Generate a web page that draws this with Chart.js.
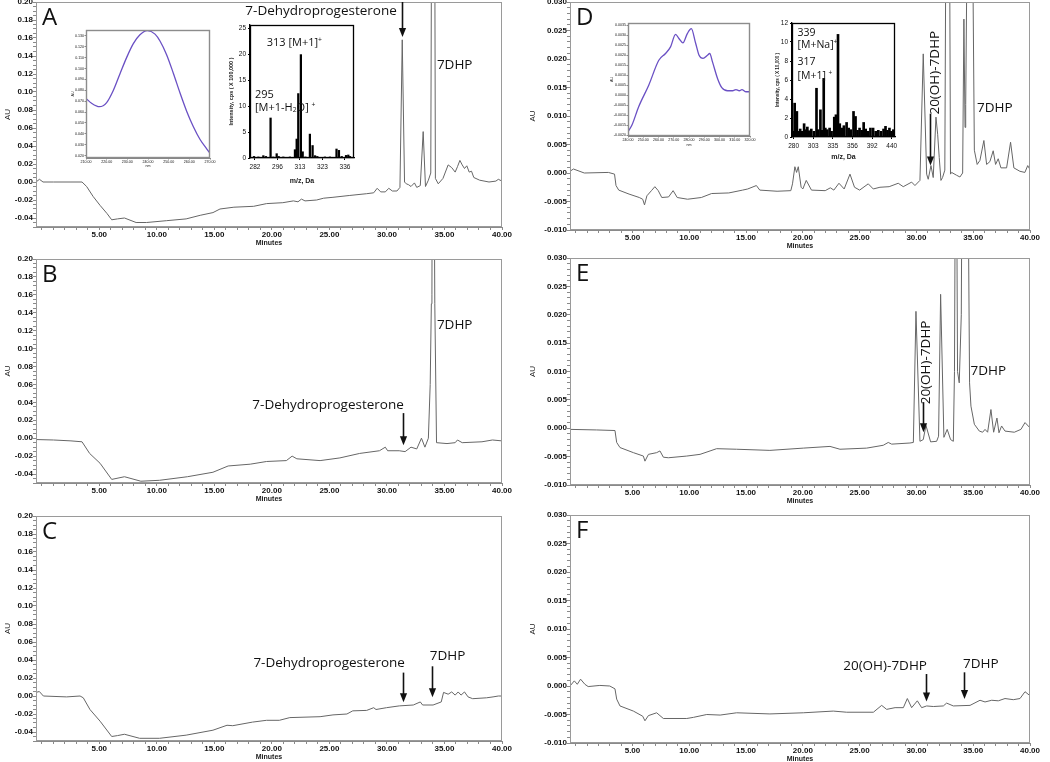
<!DOCTYPE html>
<html>
<head>
<meta charset="utf-8">
<title>HPLC of 7DHP metabolism</title>
<script src="https://cdn.jsdelivr.net/npm/chart.js@4.4.1/dist/chart.umd.min.js"></script>
<style>
  html, body { margin: 0; padding: 0; background: #fff; }
  body { position: relative; width: 1050px; height: 762px; overflow: hidden; }
  canvas { position: absolute; }
</style>
</head>
<body>
<canvas id="chartA"></canvas>
<canvas id="chartB"></canvas>
<canvas id="chartC"></canvas>
<canvas id="chartD"></canvas>
<canvas id="chartE"></canvas>
<canvas id="chartF"></canvas>
<canvas id="uvA"></canvas>
<canvas id="msA"></canvas>
<canvas id="uvD"></canvas>
<canvas id="msD"></canvas>
<script>
// ---- chromatograms: retention time (min) / absorbance (AU) ----
const timeA = [-0.5, -0.2, 0.11, 1.02, 2.54, 3.5, 3.9, 4.46, 5.07, 5.67, 6.08, 6.58, 7.19, 8.2, 9.11, 10.83, 12.55, 13.77, 14.88, 15.49, 16.7, 18.42, 19.54, 20.95, 21.87, 22.27, 22.57, 22.88, 23.89, 24.5, 25.31, 26.72, 28.24, 28.85, 29.15, 29.46, 29.86, 30.16, 30.47, 30.87, 31.13, 31.33, 31.53, 31.68, 31.88, 32.09, 32.39, 32.59, 32.9, 33.15, 33.35, 33.6, 33.81, 34.03, 34.21, 34.46, 34.87, 35.32, 35.63, 35.93, 36.13, 36.34, 36.54, 36.74, 36.94, 37.15, 37.35, 37.55, 38.06, 38.87, 39.47, 39.68, 40];
const auA = [0.000, 0.003, 0.000, 0.000, 0.000, 0.000, -0.005, -0.016, -0.026, -0.035, -0.042, -0.041, -0.040, -0.045, -0.045, -0.043, -0.041, -0.037, -0.034, -0.030, -0.028, -0.027, -0.024, -0.023, -0.021, -0.022, -0.019, -0.021, -0.020, -0.018, -0.017, -0.015, -0.013, -0.012, -0.007, -0.011, -0.011, -0.007, -0.010, -0.010, -0.006, 0.158, 0.000, -0.002, -0.003, -0.005, -0.001, -0.006, -0.004, 0.056, -0.005, 0.002, 0.010, 0.900, 0.004, -0.002, 0.004, 0.019, 0.016, 0.011, 0.017, 0.024, 0.019, 0.015, 0.018, 0.011, 0.012, 0.005, 0.002, 0.000, 0.001, 0.003, 0.001];

const timeB = [-0.5, 1.02, 2.54, 3.5, 4.16, 5.07, 6.08, 7.19, 8.61, 10.23, 12.66, 14.88, 16.2, 18.12, 19.54, 21.26, 21.76, 22.17, 24.19, 25.91, 27.63, 29.35, 29.86, 30.06, 31.07, 31.58, 32.09, 32.59, 33.0, 33.3, 33.6, 33.76, 33.86, 33.91, 33.99, 34.16, 34.31, 35.22, 35.93, 36.13, 36.54, 38.26, 39.17, 40];
const auB = [-0.0015, -0.002, -0.003, -0.004, -0.017, -0.028, -0.046, -0.043, -0.048, -0.047, -0.043, -0.038, -0.031, -0.029, -0.026, -0.025, -0.020, -0.023, -0.025, -0.022, -0.017, -0.014, -0.010, -0.014, -0.014, -0.015, -0.010, -0.012, 0.000, -0.010, 0.000, 0.060, 0.150, 0.160, 0.600, 0.150, -0.005, -0.006, -0.005, -0.002, -0.005, -0.004, -0.002, -0.003];

const timeC = [-0.5, -0.21, 0.14, 2.16, 3.33, 3.61, 4.19, 5.07, 6.08, 6.58, 7.19, 8.51, 10.23, 12.55, 14.88, 16.1, 16.6, 18.32, 19.54, 20.65, 21.56, 24.19, 25.31, 26.52, 27.03, 28.24, 28.85, 29.05, 29.96, 31.07, 32.29, 32.9, 33.1, 34.01, 34.72, 34.92, 35.32, 35.63, 35.93, 36.19, 36.44, 36.74, 37.05, 37.45, 38.66, 39.22, 39.68, 40];
const auC = [0.004, 0.005, 0.000, -0.001, 0.000, -0.002, -0.015, -0.028, -0.045, -0.044, -0.0425, -0.047, -0.047, -0.0435, -0.038, -0.0325, -0.033, -0.029, -0.027, -0.027, -0.024, -0.023, -0.021, -0.020, -0.0165, -0.016, -0.013, -0.015, -0.013, -0.011, -0.010, -0.0066, -0.010, -0.010, -0.0066, 0.004, 0.002, 0.0045, 0.001, 0.0045, 0.001, 0.0045, -0.001, -0.003, -0.002, -0.001, 0.000, 0.000];

const timeD = [-0.5, -0.2, 0.76, 2.88, 3.42, 3.55, 3.79, 4.7, 5.6, 5.9, 6.06, 6.27, 6.67, 6.97, 7.27, 7.58, 8.18, 8.58, 8.94, 9.85, 11.06, 11.97, 13.48, 14.7, 15.15, 15.91, 16.21, 17.73, 18.94, 19.09, 19.3, 19.45, 19.6, 19.85, 20.0, 20.3, 20.76, 21.97, 22.42, 22.73, 23.18, 23.64, 24.15, 24.55, 25.0, 25.76, 26.2, 26.79, 27.6, 28.4, 28.84, 29.58, 29.87, 30.31, 30.6, 30.9, 31.04, 31.28, 31.48, 31.72, 31.87, 32.01, 32.16, 32.3, 32.5, 32.77, 33.0, 33.1, 33.54, 33.83, 34.07, 34.18, 34.28, 34.34, 34.71, 35.1, 35.35, 35.59, 35.94, 36.18, 36.47, 36.76, 36.97, 37.2, 37.44, 37.94, 38.29, 38.58, 39.11, 39.55, 39.8, 40];
const auD = [0.0003, 0.0007, 0.0, 0.0001, -0.0002, -0.0022, -0.003, -0.0037, -0.0043, -0.0046, -0.0056, -0.004, -0.0031, -0.0024, -0.0031, -0.0043, -0.0042, -0.0031, -0.0043, -0.0046, -0.0043, -0.0036, -0.0035, -0.003, -0.0028, -0.0022, -0.003, -0.0032, -0.0031, -0.0019, 0.0011, 0.0001, 0.0011, -0.0025, -0.0028, -0.0013, -0.003, -0.0031, -0.0026, -0.003, -0.0018, -0.0028, -0.0002, -0.0025, -0.003, -0.0019, -0.0028, -0.0025, -0.0024, -0.0018, -0.0024, -0.0016, -0.0022, -0.0013, 0.0209, -0.0002, -0.0011, 0.0013, -0.0008, 0.0098, 0.0068, 0.0027, -0.0013, -0.0008, 0.0005, 0.12, -0.0002, 0.0001, -0.0004, -0.0007, 0.0, 0.027, 0.008, 0.012, 0.1, 0.004, 0.0015, 0.0022, 0.0057, 0.0015, 0.002, 0.0039, 0.0015, 0.0025, 0.0009, 0.0009, 0.0054, 0.0009, 0.0003, 0.0001, 0.0013, 0.0006];

const timeE = [-0.5, 1.85, 3.46, 3.61, 3.9, 5.08, 5.96, 6.1, 6.4, 7.13, 7.42, 7.72, 8.16, 9.78, 10.95, 11.83, 12.41, 14.17, 17.1, 20.04, 22.39, 23.27, 25.62, 27.08, 27.52, 27.82, 29.43, 29.73, 29.96, 30.31, 30.6, 30.84, 31.25, 31.78, 31.95, 32.13, 32.42, 32.71, 33.01, 33.25, 33.35, 33.48, 33.62, 33.77, 33.95, 34.27, 34.6, 34.68, 34.8, 35.1, 35.54, 35.83, 36.04, 36.27, 36.56, 36.8, 37.09, 37.27, 37.5, 37.8, 38.62, 39.2, 39.56, 39.94, 40];
const auE = [-0.0002, -0.0003, -0.0004, -0.0025, -0.0034, -0.0043, -0.0049, -0.0058, -0.0046, -0.0043, -0.004, -0.0051, -0.0052, -0.0049, -0.0046, -0.004, -0.0036, -0.0037, -0.0039, -0.0035, -0.0032, -0.0037, -0.0035, -0.003, -0.0025, -0.0028, -0.0026, -0.0025, 0.0206, -0.0023, -0.002, 0.0005, -0.0024, -0.0023, -0.0014, 0.0236, -0.0016, -0.0002, -0.002, -0.0023, 0.01, 0.07, 0.01, 0.008, 0.02, 0.15, 0.03, 0.008, 0.0039, 0.0007, -0.0005, -0.0007, -0.0002, -0.0007, 0.0033, -0.0007, 0.0018, -0.0008, 0.0004, -0.0005, -0.0007, -0.0002, 0.001, 0.0002, 0.0];

const timeF = [-0.5, -0.12, 0.14, 0.43, 0.81, 1.1, 2.13, 3.0, 3.46, 3.61, 3.9, 5.08, 5.9, 6.1, 6.4, 7.13, 7.42, 7.72, 9.78, 10.37, 11.54, 12.72, 14.17, 17.1, 20.04, 22.68, 23.86, 26.21, 26.94, 27.38, 28.12, 28.85, 29.2, 29.58, 30.08, 30.46, 30.9, 31.49, 32.37, 32.66, 33.25, 34.72, 35.6, 36.04, 36.63, 37.21, 37.8, 38.53, 39.12, 39.56, 40];
const auF = [0.0, 0.0009, 0.0003, 0.0012, 0.0003, -0.0001, 0.0001, 0.0, -0.0005, -0.0023, -0.0035, -0.0044, -0.0053, -0.0061, -0.0052, -0.0047, -0.0052, -0.0057, -0.0057, -0.0055, -0.005, -0.0051, -0.0047, -0.0049, -0.0047, -0.0044, -0.0046, -0.0046, -0.0034, -0.0041, -0.0038, -0.0038, -0.0022, -0.0038, -0.0026, -0.0038, -0.0035, -0.0036, -0.0035, -0.003, -0.0035, -0.0034, -0.0025, -0.0028, -0.0025, -0.0026, -0.0022, -0.0024, -0.0022, -0.001, -0.0017];

// ---- UV spectra (insets) ----
const nmA = [210, 212.7, 216.5, 220.0, 223.2, 226.5, 229.7, 232.9, 236.1, 239.7, 243.4, 245.8, 249.0, 252.3, 255.5, 258.7, 261.9, 265.2, 268.4, 270];
const uvAuA = [0.0725, 0.0681, 0.0649, 0.0687, 0.0798, 0.0955, 0.1103, 0.1229, 0.1311, 0.1349, 0.1317, 0.1254, 0.1128, 0.0955, 0.0775, 0.0608, 0.0467, 0.0347, 0.0262, 0.0221];
const nmD = [240, 242.6, 247.0, 253.6, 260.2, 264.6, 267.9, 271.2, 273.4, 276.0, 278.9, 281.5, 284.4, 286.6, 289.2, 292.1, 293.6, 295.4, 298.7, 301.5, 305.3, 308.6, 310.8, 313.0, 314.7, 317.4, 320.0];
const uvAuD = [-0.00183, -0.00150, -0.00058, 0.00050, 0.00175, 0.00209, 0.00242, 0.00305, 0.00284, 0.00262, 0.00309, 0.00334, 0.00259, 0.00200, 0.00184, 0.00200, 0.00209, 0.00167, 0.00084, 0.00038, 0.00022, 0.00022, 0.00028, 0.00022, 0.00028, 0.00017, 0.00017];

// ---- mass spectra (insets) ----
const mzA = [281.4, 284.1, 287.2, 288.8, 291.7, 293.4, 295.5, 296.9, 300.4, 305.4, 309.2, 310.5, 311.7, 313.4, 314.2, 315.4, 317.4, 318.6, 319.7, 320.7, 324.4, 327.3, 331.1, 332.5, 334.1, 336.6, 337.9, 338.9];
const cpsA = [0.3, 0.2, 0.45, 0.3, 7.7, 0.2, 0.83, 0.3, 0.2, 0.2, 1.6, 3.65, 12.4, 19.9, 1.2, 0.2, 4.6, 2.4, 0.45, 0.3, 0.2, 0.2, 1.73, 1.47, 0.3, 0.5, 0.58, 0.3];
const mzD = [279.2, 281.2, 282.3, 283.8, 285.4, 287.7, 289.6, 292.3, 294.2, 296.1, 298.4, 300.7, 304.1, 308.3, 311, 314.7, 317.4, 320.1, 322.7, 325.9, 329.7, 332.9, 336.5, 338.3, 340.5, 342.4, 344.6, 346.8, 349.7, 351.9, 354.2, 357.9, 361.6, 365.3, 369, 372.8, 376.5, 380.2, 384.6, 388.9, 394.4, 400.8, 407.2, 413.6, 420, 424.8, 429.6, 434.4, 439.2, 444];
const cpsD = [0.6, 3.56, 0.77, 2.69, 0.6, 0.84, 0.6, 1.4, 0.77, 1.05, 0.66, 0.84, 0.6, 5.13, 0.77, 2.86, 0.7, 6.17, 0.94, 0.77, 0.94, 0.6, 2.09, 2.34, 10.8, 1.4, 0.94, 1.19, 1.53, 0.94, 0.77, 2.69, 2.16, 0.7, 0.94, 0.7, 1.53, 0.84, 0.6, 0.94, 0.94, 0.6, 0.7, 0.6, 0.84, 1.12, 0.7, 0.94, 0.6, 0.77];

// ---- tick labels ----
const minuteTicks = steps(0, 40, 1);
const auTicksLeft = steps(-0.05, 0.20, 0.005);
const auTicksRight = steps(-0.010, 0.030, 0.001);
const uvTicksA = { x: steps(210, 270, 10), y: steps(0.02, 0.13, 0.01) };
const uvTicksD = { x: steps(240, 320, 10), y: steps(-0.002, 0.0035, 0.0005) };
const msTicksA = { x: [282, 296, 313, 323, 336], y: [0, 5, 10, 15, 20, 25] };
const msTicksD = { x: [280, 303, 335, 356, 392, 440], y: [0, 2, 4, 6, 8, 10, 12] };

function steps(lo, hi, step) {
  const n = Math.round((hi - lo) / step), out = [];
  for (let i = 0; i <= n; i++) out.push(+(lo + i * step).toFixed(6));
  return out;
}
function isMult(v, m) { return Math.abs(v / m - Math.round(v / m)) < 1e-6; }

Chart.defaults.font.family = '"Liberation Sans", Arial, sans-serif';
Chart.defaults.color = '#1a1a1a';

// m/z axis of the MS insets: labelled ticks are evenly spaced, values between them linear
class PiecewiseScale extends Chart.LinearScale {
  _pw(v) {
    const b = this.options.breaks, n = b.length;
    if (v <= b[0]) return (v - b[0]) / (b[1] - b[0]);
    if (v >= b[n - 1]) return n - 1 + (v - b[n - 1]) / (b[n - 1] - b[n - 2]);
    let i = 0;
    while (v > b[i + 1]) i++;
    return i + (v - b[i]) / (b[i + 1] - b[i]);
  }
  getPixelForValue(v) {
    const lo = this._pw(this.min), hi = this._pw(this.max);
    return this.getPixelForDecimal((this._pw(v) - lo) / (hi - lo));
  }
  getValueForPixel(p) {
    const b = this.options.breaks, n = b.length;
    const lo = this._pw(this.min), hi = this._pw(this.max);
    const f = lo + this.getDecimalForPixel(p) * (hi - lo);
    const i = Math.max(0, Math.min(n - 2, Math.floor(f)));
    return b[i] + (f - i) * (b[i + 1] - b[i]);
  }
}
PiecewiseScale.id = 'piecewise';
PiecewiseScale.defaults = Chart.LinearScale.defaults;
Chart.register(PiecewiseScale);

function place(id, area, m) {
  const c = document.getElementById(id);
  const w = area.r - area.l + m.yW + m.right;
  const h = area.b - area.t + m.top + m.xH;
  c.width = w; c.height = h;
  c.style.width = w + 'px'; c.style.height = h + 'px';
  c.style.left = (area.l - m.yW) + 'px';
  c.style.top = (area.t - m.top) + 'px';
  return c;
}

function baseOptions(m) {
  return {
    responsive: false, animation: false, devicePixelRatio: 1, events: [],
    layout: { padding: { left: 0, top: m.top, right: m.right, bottom: 0 } },
    plugins: { legend: { display: false }, tooltip: { enabled: false } }
  };
}

function axis(min, max, tickValues, fmt, look) {
  return {
    type: look.type || 'linear', min: min, max: max, offset: false, breaks: look.breaks,
    afterBuildTicks: s => { s.ticks = tickValues.map(v => ({ value: v })); },
    afterFit: s => {
      if (s.isHorizontal()) { s.height = look.size; s.paddingLeft = 0; s.paddingRight = 0; }
      else { s.width = look.size; s.paddingTop = 0; s.paddingBottom = 0; }
    },
    ticks: { autoSkip: false, maxRotation: 0, minRotation: 0, padding: look.pad, font: look.font, color: '#111', callback: fmt },
    grid: { drawOnChartArea: false, offset: false, tickLength: look.len, color: look.line, lineWidth: 1 },
    border: { color: look.line, width: look.bw || 1 },
    title: { display: true, text: look.title, font: look.titleFont, color: '#1a1a1a', padding: look.titlePad }
  };
}

function frame(color, width) {
  return {
    id: 'frame',
    afterDatasetsDraw(chart) {
      const a = chart.chartArea, ctx = chart.ctx;
      ctx.save();
      ctx.strokeStyle = color; ctx.lineWidth = width;
      ctx.strokeRect(Math.round(a.left) + 0.5, Math.round(a.top) + 0.5, Math.round(a.right - a.left) - 1, Math.round(a.bottom - a.top) - 1);
      ctx.restore();
    }
  };
}

function arrow(ctx, x, y0, y1) {
  ctx.strokeStyle = '#111'; ctx.fillStyle = '#111'; ctx.lineWidth = 1.6;
  ctx.beginPath(); ctx.moveTo(x, y0); ctx.lineTo(x, y1 - 8); ctx.stroke();
  ctx.beginPath(); ctx.moveTo(x - 3.6, y1 - 9); ctx.lineTo(x + 3.6, y1 - 9); ctx.lineTo(x, y1); ctx.closePath(); ctx.fill();
}

function notes(marks) {
  return {
    id: 'notes',
    afterDraw(chart) {
      const { ctx, chartArea, scales: { x, y } } = chart;
      ctx.save();
      ctx.fillStyle = '#111';
      ctx.textBaseline = 'alphabetic'; ctx.textAlign = 'left';
      ctx.font = '24px "Open Sans"';
      ctx.fillText(marks.letter, chartArea.left + 6, chartArea.top + 23);
      ctx.font = '13.5px "Open Sans"';
      ctx.textBaseline = 'middle';
      marks.texts.forEach(n => {
        ctx.save();
        ctx.translate(x.getPixelForValue(n.t), y.getPixelForValue(n.v));
        if (n.rot) ctx.rotate(-Math.PI / 2);
        ctx.textAlign = n.align || 'left';
        ctx.fillText(n.s, 0, 0);
        ctx.restore();
      });
      marks.arrows.forEach(a => arrow(ctx, Math.round(x.getPixelForValue(a.t)) + 0.5, y.getPixelForValue(a.from), y.getPixelForValue(a.to)));
      ctx.restore();
    }
  };
}

function chromatogram(id, area, times, values, side, marks) {
  const left = side === 'left';
  const m = { yW: left ? 36 : 50, xH: 23, top: 6, right: left ? 12 : 14 };
  const canvas = place(id, area, m);
  const tickFont = { size: 8, weight: 'bold' };
  const major = left ? 0.02 : 0.005, dec = left ? 2 : 3;
  return new Chart(canvas, {
    type: 'line',
    data: { datasets: [{ data: times.map((t, i) => ({ x: t, y: values[i] })), borderColor: '#666', borderWidth: 1, pointRadius: 0, tension: 0 }] },
    options: Object.assign(baseOptions(m), {
      scales: {
        x: axis(-0.5, 40, minuteTicks, v => (v > 0 && v % 5 === 0 ? v.toFixed(2) : ''),
          { size: m.xH, pad: 0, len: 3, font: tickFont, line: '#8a8a8a', title: 'Minutes', titleFont: { size: 7, weight: 'bold' }, titlePad: { top: 0, bottom: 3 } }),
        y: axis(left ? -0.05 : -0.010, left ? 0.20 : 0.030, left ? auTicksLeft : auTicksRight,
          v => (isMult(v, major) ? v.toFixed(dec) : ''),
          { size: m.yW, pad: 0, len: 3, font: tickFont, line: '#8a8a8a', title: 'AU', titleFont: { size: 8 }, titlePad: { top: left ? 3.2 : 8, bottom: 0 } })
      }
    }),
    plugins: [frame('#9a9a9a', 1), notes(marks)]
  });
}

function uvInset(id, area, m, nm, au, xr, yr, ticks, dec) {
  const canvas = place(id, area, m);
  const tiny = { size: 3.6 };
  return new Chart(canvas, {
    type: 'line',
    data: { datasets: [{ data: nm.map((v, i) => ({ x: v, y: au[i] })), borderColor: '#6a50c4', borderWidth: 1.3, pointRadius: 0, cubicInterpolationMode: 'monotone' }] },
    options: Object.assign(baseOptions(m), {
      scales: {
        x: axis(xr[0], xr[1], ticks.x, v => v.toFixed(2),
          { size: m.xH, pad: 0.5, len: 1.5, font: tiny, line: '#888', title: 'nm', titleFont: tiny, titlePad: { top: 0, bottom: m.tb } }),
        y: axis(yr[0], yr[1], ticks.y, v => v.toFixed(dec),
          { size: m.yW, pad: 0.5, len: 1.5, font: tiny, line: '#888', title: 'AU', titleFont: tiny, titlePad: { top: m.tl, bottom: 0 } })
      }
    }),
    plugins: [frame('#8c8c8c', 1.4)]
  });
}

function drawRich(ctx, x, y, parts, size) {
  let cx = x;
  parts.forEach(([s, k]) => {
    const fs = k ? size * 0.62 : size;
    ctx.font = fs + 'px "Open Sans"';
    const dy = k > 0 ? -size * 0.3 : (k < 0 ? size * 0.22 : 0);
    ctx.fillText(s, cx, y + dy);
    cx += ctx.measureText(s).width;
  });
}

function msText(items, size) {
  return {
    id: 'msText',
    afterDraw(chart) {
      const { ctx, scales: { x, y } } = chart;
      ctx.save();
      ctx.fillStyle = '#111'; ctx.textBaseline = 'middle'; ctx.textAlign = 'left';
      items.forEach(it => drawRich(ctx, x.getPixelForValue(it.mz), y.getPixelForValue(it.i), it.parts, size));
      ctx.restore();
    }
  };
}

function msInset(id, area, m, mz, cps, xr, yMax, ticks, yTitle, items, size) {
  const canvas = place(id, area, m);
  const tf = { size: 6.5 };
  return new Chart(canvas, {
    type: 'bar',
    data: { datasets: [{ data: mz.map((v, i) => ({ x: v, y: cps[i] })), backgroundColor: '#000', barThickness: m.bar, borderWidth: 0 }] },
    options: Object.assign(baseOptions(m), {
      scales: {
        x: axis(xr[0], xr[1], ticks.x, v => String(v),
          { type: 'piecewise', breaks: ticks.x, size: m.xH, pad: 3, len: 2, font: tf, line: '#000', bw: 1.3, title: 'm/z, Da', titleFont: { size: 7, weight: 'bold' }, titlePad: { top: 0, bottom: m.tb } }),
        y: axis(0, yMax, ticks.y, v => String(v),
          { size: m.yW, pad: 2, len: 2, font: tf, line: '#000', bw: 1.3, title: yTitle, titleFont: { size: m.ts, weight: 'bold' }, titlePad: { top: m.tl, bottom: 0 } })
      }
    }),
    plugins: [frame('#000', 1.3), msText(items, size)]
  });
}

// ---- main panels ----
chromatogram('chartA', { l: 36, t: 2, r: 502, b: 227 }, timeA, auA, 'left', {
  letter: 'A',
  texts: [{ s: '7-Dehydroprogesterone', t: 30.86, v: 0.19, align: 'right' }, { s: '7DHP', t: 34.34, v: 0.13 }],
  arrows: [{ t: 31.3, from: 0.2, to: 0.161 }]
});
chromatogram('chartB', { l: 36, t: 259, r: 502, b: 483 }, timeB, auB, 'left', {
  letter: 'B',
  texts: [{ s: '7-Dehydroprogesterone', t: 31.47, v: 0.037, align: 'right' }, { s: '7DHP', t: 34.34, v: 0.126 }],
  arrows: [{ t: 31.39, from: 0.028, to: -0.008 }]
});
chromatogram('chartC', { l: 36, t: 516, r: 502, b: 741 }, timeC, auC, 'left', {
  letter: 'C',
  texts: [{ s: '7-Dehydroprogesterone', t: 31.56, v: 0.037, align: 'right' }, { s: '7DHP', t: 33.73, v: 0.044 }],
  arrows: [{ t: 31.39, from: 0.026, to: -0.007 }, { t: 33.9, from: 0.033, to: -0.0015 }]
});
chromatogram('chartD', { l: 570, t: 2, r: 1030, b: 230 }, timeD, auD, 'right', {
  letter: 'D',
  texts: [{ s: '20(OH)-7DHP', t: 31.67, v: 0.0176, align: 'center', rot: true }, { s: '7DHP', t: 35.33, v: 0.0113 }],
  arrows: [{ t: 31.23, from: 0.0104, to: 0.0013 }]
});
chromatogram('chartE', { l: 570, t: 258, r: 1030, b: 485 }, timeE, auE, 'right', {
  letter: 'E',
  texts: [{ s: '20(OH)-7DHP', t: 30.85, v: 0.0116, align: 'center', rot: true }, { s: '7DHP', t: 34.77, v: 0.010 }],
  arrows: [{ t: 30.55, from: 0.0046, to: -0.0007 }]
});
chromatogram('chartF', { l: 570, t: 515, r: 1030, b: 743 }, timeF, auF, 'right', {
  letter: 'F',
  texts: [{ s: '20(OH)-7DHP', t: 30.93, v: 0.0035, align: 'right' }, { s: '7DHP', t: 34.1, v: 0.0038 }],
  arrows: [{ t: 30.84, from: 0.0021, to: -0.0027 }, { t: 34.18, from: 0.0024, to: -0.0023 }]
});

// ---- insets ----
uvInset('uvA', { l: 86, t: 30, r: 210, b: 158 }, { yW: 18, xH: 13, top: 4, right: 7, tb: 3, tl: 2.6 },
  nmA, uvAuA, [210, 270], [0.0177, 0.1355], uvTicksA, 3);
uvInset('uvD', { l: 628, t: 23, r: 750, b: 136 }, { yW: 19, xH: 13, top: 4, right: 7, tb: 1.9, tl: 0.6 },
  nmD, uvAuD, [240, 320], [-0.00205, 0.00362], uvTicksD, 4);

msInset('msA', { l: 250, t: 25, r: 354, b: 158 }, { yW: 24, xH: 28, top: 5, right: 8, tb: 0.8, tl: 1.7, ts: 5.5, bar: 1.6 },
  mzA, cpsA, [278.9, 341.2], 25.6, msTicksA, 'Intensity, cps ( X 100,000 )', [
    { mz: 289.3, i: 22.1, parts: [['313 [M+1]', 0], ['+', 1]] },
    { mz: 282, i: 12.2, parts: [['295', 0]] },
    { mz: 282, i: 9.6, parts: [['[M+1-H', 0], ['2', -1], ['O] ', 0], ['+', 1]] }
  ], 11);
msInset('msD', { l: 792, t: 23, r: 895, b: 137 }, { yW: 20, xH: 24, top: 5, right: 8, tb: 0, tl: 3.3, ts: 4.6, bar: 2 },
  mzD, cpsD, [278.1, 448], 12, msTicksD, 'Intensity, cps ( X 10,000 )', [
    { mz: 284.6, i: 10.9, parts: [['339', 0]] },
    { mz: 284.6, i: 9.66, parts: [['[M+Na]', 0], ['+', 1]] },
    { mz: 284.6, i: 7.9, parts: [['317', 0]] },
    { mz: 284.6, i: 6.4, parts: [['[M+1] ', 0], ['+', 1]] }
  ], 10.5);
</script>
</body>
</html>
